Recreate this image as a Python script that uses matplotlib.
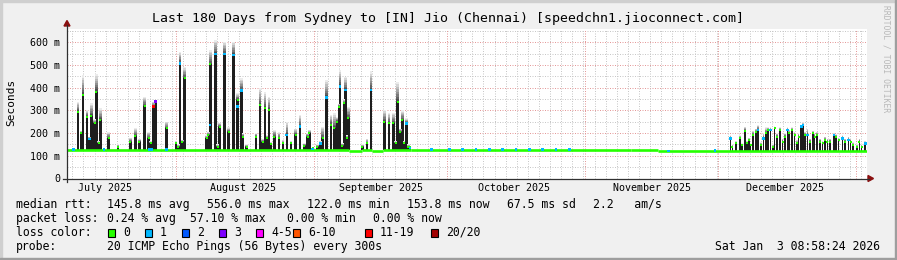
import datetime as dt
import numpy as np
import matplotlib
matplotlib.use("Agg")
import matplotlib.pyplot as plt
from matplotlib.patches import Rectangle, Polygon
from matplotlib.lines import Line2D

W, H = 897, 260
MONO = "DejaVu Sans Mono"

start = dt.datetime(2025, 7, 7, 11, 0)
span_days = 180

title = "Last 180 Days from Sydney to [IN] Jio (Chennai) [speedchn1.jioconnect.com]"

# median baseline (ms) as steps, days since start
base_day = [0, 63.5, 66.3, 68.6, 71.2, 77.4, 127, 133, 180]
base_ms = [127, 121, 127, 121, 127, 126, 124, 122]

# spikes: day since start, top of dense smoke (ms), top of faint smoke (ms)
spike_day = [2.48, 3.15, 3.6, 4.5, 5.1, 5.47, 6.23, 6.6, 7.13, 7.5, 9.38, 11.48,
             14.24, 15.37, 16.27, 17.48, 18.38, 18.83, 19.51, 19.87, 22.43, 24.53,
             25.04, 25.43, 25.94, 26.48, 31.43, 31.79, 32.24, 33.46, 33.91, 34.36,
             35.48, 36.38, 37.42, 38.41, 39.22, 39.6, 40.43, 42.53, 43.43, 44.03,
             44.55, 44.94, 45.45, 45.9, 46.65, 47.64, 48.54, 49.44, 50.34, 51.46,
             52.43, 53.4, 54.16, 54.52, 55.29, 56.32, 57.08, 57.53, 58.43, 59.34,
             60.15, 60.69, 61.2, 61.43, 61.95, 62.33, 62.63, 62.94, 63.3, 66.45,
             67.44, 68.4, 71.4, 72.39, 73.42, 73.96, 74.41, 75.0, 75.45, 75.83,
             76.35, 76.8, 77.18,
             149.3, 149.7, 150.5, 151.4, 151.9, 152.5, 153.0, 153.4, 153.8, 154.4,
             155.0, 155.5, 156.1, 156.7, 157.3, 157.7, 158.3, 158.8, 159.2, 159.8,
             160.4, 161.0, 161.5, 162.1, 162.5, 163.1, 163.7, 164.2, 164.6, 165.2,
             165.6, 166.1, 166.6, 167.2, 167.8, 168.2, 168.8, 169.4, 170.0, 170.6,
             171.1, 171.7, 172.6, 173.0, 173.6, 174.5, 175.1, 175.8, 176.3, 176.9,
             177.7, 178.3, 178.8, 179.6]
spike_top = [295, 199, 368, 273, 174, 277, 243, 383, 155, 258, 177, 140,
             162, 187, 162, 320, 177, 155, 317, 339, 221, 155,
             140, 508, 162, 442, 177, 192, 503, 548, 140, 229,
             548, 206, 545, 346, 388, 184, 140, 184, 324, 160,
             310, 177, 302, 150, 184, 177, 155, 192, 155, 192,
             229, 145, 184, 199, 135, 140, 155, 177, 357, 236,
             221, 251, 317, 405, 145, 332, 390, 177, 266, 140,
             155, 390, 251, 243, 243, 155, 339, 206, 258, 155,
             243, 140, 140,
             177, 140, 155, 177, 147, 211, 155, 170, 147, 192,
             206, 214, 147, 177, 199, 214, 214, 140, 221, 184,
             214, 163, 184, 214, 199, 214, 192, 155, 184, 229,
             236, 192, 192, 163, 199, 184, 192, 163, 155, 170,
             163, 163, 192, 184, 170, 177, 163, 170, 163, 147,
             140, 163, 140, 155]
spike_max = [339, 210, 456, 300, 185, 332, 260, 459, 165, 310, 205, 150,
             180, 221, 175, 361, 206, 165, 339, 345, 251, 165,
             150, 559, 170, 493, 190, 205, 567, 611, 150, 245,
             603, 225, 603, 376, 442, 200, 150, 200, 398, 175,
             383, 190, 361, 160, 214, 205, 170, 251, 165, 220,
             280, 155, 200, 215, 140, 150, 165, 229, 434, 280,
             287, 270, 330, 479, 155, 350, 449, 190, 317, 150,
             175, 472, 302, 290, 290, 165, 427, 220, 300, 165,
             265, 150, 145,
             190, 150, 165, 190, 155, 229, 165, 180, 155, 210,
             220, 236, 160, 200, 225, 225, 225, 150, 230, 200,
             225, 175, 200, 225, 215, 225, 205, 170, 200, 236,
             245, 205, 220, 175, 210, 200, 205, 175, 165, 185,
             175, 175, 200, 195, 180, 190, 175, 185, 175, 160,
             150, 175, 150, 165]

# medians drawn with packet loss colour: day, ms, loss colour index
loss_day = [1.5, 5.1, 8.3, 18.5, 19.1, 19.51, 19.87, 22.43, 25.43, 32.2, 33.46,
            35.48, 37.42, 38.3, 39.22, 49.44, 52.43, 55.29, 57.08, 58.43, 61.43,
            62.63, 68.4, 76.35, 77.18, 82, 86, 89, 92, 95, 98, 101, 104, 107,
            110, 113, 135.3, 145.8, 149.3, 155.5, 156.7, 158.3, 162.1, 165.2,
            165.6, 166.6, 172.6, 174.5, 175.8, 179.6]
loss_ms = [127, 174, 127, 127, 127, 317, 339, 127, 508, 236, 548,
           548, 545, 317, 388, 192, 229, 130, 155, 357, 405,
           390, 390, 243, 135, 127, 127, 127, 127, 127, 127, 127, 127, 127,
           127, 127, 122, 124, 177, 214, 177, 214, 214, 229,
           236, 192, 192, 177, 170, 155]
loss_idx = [1, 1, 1, 1, 1, 6, 3, 1, 1, 1, 1,
            1, 1, 1, 1, 1, 1, 1, 1, 1, 1,
            1, 1, 1, 1, 1, 1, 1, 1, 1, 1, 1, 1, 1,
            1, 1, 1, 1, 1, 1, 1, 1, 1, 1,
            1, 1, 1, 1, 1, 1]

loss_labels = ["0", "1", "2", "3", "4-5", "6-10", "11-19", "20/20"]
loss_colors = ["#26ff00", "#00b8ff", "#0059ff", "#7e00ff", "#ff00ff",
               "#ff5500", "#ff0000", "#a10000"]
loss_box_x = [108, 145, 182, 219, 256, 293, 365, 431]

y_ticks = [0, 100, 200, 300, 400, 500, 600]
y_tick_labels = ["0", "100 m", "200 m", "300 m", "400 m", "500 m", "600 m"]
month_lines = [dt.datetime(2025, 8, 1), dt.datetime(2025, 9, 1), dt.datetime(2025, 10, 1),
               dt.datetime(2025, 11, 1), dt.datetime(2025, 12, 1), dt.datetime(2026, 1, 1)]
month_labels = ["July 2025", "August 2025", "September 2025", "October 2025",
                "November 2025", "December 2025"]
month_label_dates = [dt.datetime(2025, m, 16) for m in range(7, 13)]

stats_rtt = ["145.8 ms avg", "556.0 ms max", "122.0 ms min", "153.8 ms now",
             "67.5 ms sd", "2.2   am/s"]
stats_rtt_x = [107, 207, 307, 407, 507, 593]
stats_loss = ["0.24 % avg", "57.10 % max", "0.00 % min", "0.00 % now"]
stats_loss_x = [107, 190, 287, 373]
probe = "20 ICMP Echo Pings (56 Bytes) every 300s"
stamp = "Sat Jan  3 08:58:24 2026"


def days(d):
    return (d - start).total_seconds() / 86400.0


def fx(x):
    return x / W


def fy(y):
    return 1 - y / H


fig = plt.figure(figsize=(W / 100, H / 100), dpi=100)
fig.patch.set_facecolor("#f0f0f0")
# 3d frame
fig.patches.append(Rectangle((0, fy(2)), 1, 2 / H, transform=fig.transFigure, color="#cfcfcf", zorder=0))
fig.patches.append(Rectangle((0, 0), 2 / W, 1, transform=fig.transFigure, color="#cfcfcf", zorder=0))
fig.patches.append(Rectangle((0, 0), 1, 2 / H, transform=fig.transFigure, color="#9e9e9e", zorder=1))
fig.patches.append(Rectangle((fx(W - 2), 0), 2 / W, 1, transform=fig.transFigure, color="#9e9e9e", zorder=1))

ax = fig.add_axes([fx(67), fy(178.5), 800 / W, 150 / H])
ax.set_facecolor("white")
ax.set_xlim(0, span_days)
ax.set_ylim(0, 661)
for s in ax.spines.values():
    s.set_visible(False)

# grid
for v in np.arange(50, 661, 100):
    ax.axhline(v, color="#c8c8c8", lw=0.72, ls=(0, (1, 1.5)), zorder=0)
for v in y_ticks[1:]:
    ax.axhline(v, color="#e49a9a", lw=0.72, ls=(0, (1, 1.5)), zorder=0)
for d in np.arange(1.2, span_days, 2.5):
    ax.axvline(d, color="#c8c8c8", lw=0.72, ls=(0, (1, 1.5)), zorder=0)
for m in month_lines:
    ax.axvline(days(m), color="#e49a9a", lw=0.72, ls=(0, (1, 1.5)), zorder=0)

# spikes
sd = np.array(spike_day)
st = np.array(spike_top, float)
sm = np.array(spike_max, float)
idx = np.searchsorted(base_day, sd, side="right") - 1
sb = np.array(base_ms, float)[idx]
bw = np.where(sd < 100, 0.55, 0.34)
ax.bar(sd, st - sb, bottom=sb, width=bw, color="#1e1e1e", lw=0, zorder=2)
n = 8
for k in range(n):
    lo = st + (sm - st) * k / n
    hi = st + (sm - st) * (k + 1) / n
    g = 0.30 + 0.62 * k / (n - 1)
    ax.bar(sd, hi - lo, bottom=lo, width=bw, color=(g, g, g), lw=0, zorder=2)

# baseline median
for i in range(len(base_ms)):
    ax.plot([base_day[i], base_day[i + 1]], [base_ms[i], base_ms[i]],
            color=loss_colors[0], lw=1.9, solid_capstyle="butt", zorder=3)
ax.scatter(sd, st, marker="s", s=3.5, color=loss_colors[0], lw=0, zorder=4)
ax.scatter(loss_day, loss_ms, marker="s", s=3.5,
           color=[loss_colors[i] for i in loss_idx], lw=0, zorder=5)

# ticks
ax.set_yticks(y_ticks)
ax.set_yticklabels(y_tick_labels, fontfamily=MONO, fontsize=7.2)
ax.set_xticks([days(d) for d in month_label_dates])
ax.set_xticklabels(month_labels, fontfamily=MONO, fontsize=7.2)
ax.tick_params(axis="y", length=0, pad=5)
ax.tick_params(axis="x", length=0, pad=3.5)

# axis lines with arrows
axis_col = "#303030"
arrow_col = "#8b1010"
fig.add_artist(Line2D([fx(67), fx(67)], [fy(182), fy(25)], transform=fig.transFigure, color=axis_col, lw=0.9))
fig.add_artist(Line2D([fx(63), fx(869)], [fy(178.5), fy(178.5)], transform=fig.transFigure, color=axis_col, lw=0.9))
fig.add_artist(Polygon([(fx(64), fy(26)), (fx(70), fy(26)), (fx(67), fy(20.5))], closed=True,
                       transform=fig.transFigure, color=arrow_col))
fig.add_artist(Polygon([(fx(868), fy(175.5)), (fx(868), fy(181.5)), (fx(873.5), fy(178.5))], closed=True,
                       transform=fig.transFigure, color=arrow_col))

# texts
fig.text(fx(448), fy(18.5), title, ha="center", va="center", fontfamily=MONO, fontsize=9.5)
fig.text(fx(11), fy(102), "Seconds", rotation=90, ha="center", va="center", fontfamily=MONO, fontsize=8)
fig.text(fx(886), fy(59), "RRDTOOL / TOBI OETIKER", rotation=-90, ha="center", va="center",
         fontfamily=MONO, fontsize=5.8, color="#b8b8b8")

fs = 8.3
fig.text(fx(16), fy(204.3), "median rtt:", va="center", fontfamily=MONO, fontsize=fs)
for s, x in zip(stats_rtt, stats_rtt_x):
    fig.text(fx(x), fy(204.3), s, va="center", fontfamily=MONO, fontsize=fs)
fig.text(fx(16), fy(218.3), "packet loss:", va="center", fontfamily=MONO, fontsize=fs)
for s, x in zip(stats_loss, stats_loss_x):
    fig.text(fx(x), fy(218.3), s, va="center", fontfamily=MONO, fontsize=fs)
fig.text(fx(16), fy(232.3), "loss color:", va="center", fontfamily=MONO, fontsize=fs)
for lab, col, x in zip(loss_labels, loss_colors, loss_box_x):
    fig.add_artist(Rectangle((fx(x), fy(236.5)), 7 / W, 8 / H, transform=fig.transFigure,
                             facecolor=col, edgecolor="black", lw=0.8))
    fig.text(fx(x + 15), fy(232.3), lab, va="center", fontfamily=MONO, fontsize=fs)
fig.text(fx(16), fy(246.3), "probe:", va="center", fontfamily=MONO, fontsize=fs)
fig.text(fx(107), fy(246.3), probe, va="center", fontfamily=MONO, fontsize=fs)
fig.text(fx(880), fy(246.3), stamp, ha="right", va="center", fontfamily=MONO, fontsize=fs)

fig.savefig("out.png", dpi=100, facecolor=fig.get_facecolor())
